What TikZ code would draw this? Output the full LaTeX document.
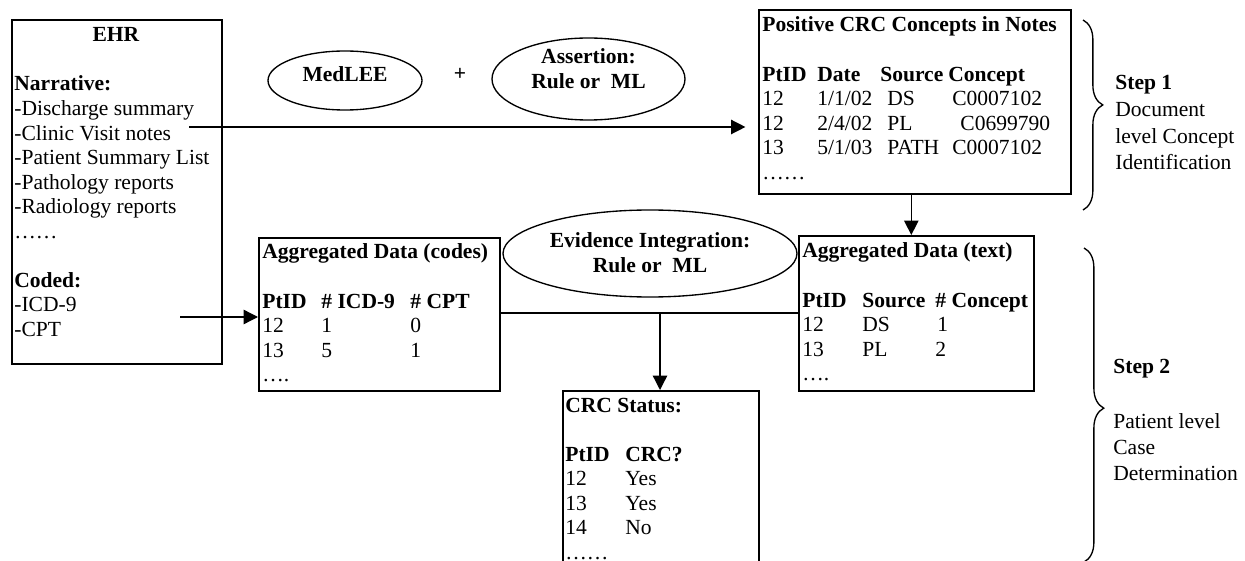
\documentclass[tikz,border=0pt]{standalone}
\usepackage{fontspec}
\setmainfont{Liberation Serif}
\usetikzlibrary{arrows.meta,shapes.geometric,decorations.pathreplacing}
\begin{document}
\begin{tikzpicture}[x=0.557pt,y=-0.557pt,font=\fontsize{12}{13.65}\selectfont]
\tikzset{
 box/.style={draw, line width=1pt, inner sep=0pt, anchor=north west},
 oval/.style={draw, ellipse, line width=0.75pt, inner sep=0pt},
 txt/.style={inner sep=0pt, anchor=base west},
 ctxt/.style={inner sep=0pt, anchor=base},
 arr/.style={line width=0.75pt, -{Triangle[length=8pt,width=8pt]}},
 conn/.style={line width=0.75pt},
 brc/.style={line width=0.75pt, decorate},
}
\useasboundingbox (0,0) rectangle (1245,561);
\clip (0,0) rectangle (1245,561);

% boxes
\node[box, minimum width=210*0.557pt, minimum height=344*0.557pt] (ehr) at (11,19) {};
\node[box, minimum width=312*0.557pt, minimum height=184*0.557pt] (pos) at (758,9) {};
\node[box, minimum width=241*0.557pt, minimum height=153*0.557pt] (aggcodes) at (258,237) {};
\node[box, minimum width=235*0.557pt, minimum height=155*0.557pt] (aggtext) at (798,235) {};
\node[box, minimum width=196*0.557pt, minimum height=200*0.557pt] (crc) at (562,390) {};

% ellipses
\node[oval, minimum width=154*0.557pt, minimum height=59*0.557pt] (medlee) at (345,80.5) {};
\node[oval, minimum width=193*0.557pt, minimum height=82*0.557pt] (assert) at (588.5,79) {};
\node[oval, minimum width=294*0.557pt, minimum height=87*0.557pt] (evid) at (650,253.5) {};

\node[ctxt] (medleeT) at (345,82) {\textbf{MedLEE}};
\node[ctxt] (plusT) at (460,81) {\textbf{+}};
\node[ctxt] (assertT) at (588.5,64) {\begin{tabular}[t]{@{}c@{}}\textbf{Assertion:}\\\textbf{Rule or~ ML}\end{tabular}};
\node[ctxt] (evidT) at (650,248) {\begin{tabular}[t]{@{}c@{}}\textbf{Evidence Integration:}\\\textbf{Rule or~ ML}\end{tabular}};

% EHR text
\node[ctxt] (ehrT) at (116,42) {\textbf{EHR}};
\node[txt] (ehrL) at (14,91) {\begin{tabular}[t]{@{}l@{}}
\textbf{Narrative:}\\
-Discharge summary\\
-Clinic Visit notes\\
-Patient Summary List\\
-Pathology reports\\
-Radiology reports\\
……\\
\\
\textbf{Coded:}\\
-ICD-9\\
-CPT
\end{tabular}};

% Positive concepts table
\node[txt] (posT) at (762,32) {\begin{tabular}[t]{@{}p{30.6pt}@{}p{35.1pt}@{}p{37.9pt}@{}l@{}}
\multicolumn{4}{@{}l@{}}{\textbf{Positive CRC Concepts in Notes}}\\
\\
\textbf{PtID} & \textbf{Date} & \textbf{Source} & \textbf{Concept}\\
12 & 1/1/02 & \hspace*{3.9pt}DS & \hspace*{2.2pt}C0007102\\
12 & 2/4/02 & \hspace*{3.9pt}PL & \hspace*{6.7pt}C0699790\\
13 & 5/1/03 & \hspace*{3.9pt}PATH & \hspace*{2.2pt}C0007102\\
\multicolumn{4}{@{}l@{}}{……}
\end{tabular}};

% Aggregated codes
\node[txt] (codesT) at (262,259) {\begin{tabular}[t]{@{}p{32.9pt}@{}p{49.6pt}@{}l@{}}
\multicolumn{3}{@{}l@{}}{\textbf{Aggregated Data (codes)}}\\
\\
\textbf{PtID} & \textbf{\# ICD-9} & \textbf{\# CPT}\\
12 & 1 & 0\\
13 & 5 & 1\\
\multicolumn{3}{@{}l@{}}{….}
\end{tabular}};

% Aggregated text
\node[txt] (textT) at (802,258) {\begin{tabular}[t]{@{}p{33.4pt}@{}p{40.7pt}@{}l@{}}
\multicolumn{3}{@{}l@{}}{\textbf{Aggregated Data (text)}}\\
\\
\textbf{PtID} & \textbf{Source} & \textbf{\# Concept}\\
12 & DS & \hspace*{1.1pt}1\\
13 & PL & 2\\
\multicolumn{3}{@{}l@{}}{….}
\end{tabular}};

% CRC status
\node[txt] (crcT) at (565,412) {\begin{tabular}[t]{@{}p{33.4pt}@{}l@{}}
\multicolumn{2}{@{}l@{}}{\textbf{CRC Status:}}\\
\\
\textbf{PtID} & \textbf{CRC?}\\
12 & Yes\\
13 & Yes\\
14 & No\\
\multicolumn{2}{@{}l@{}}{……}
\end{tabular}};

% steps
\node[txt] (s1) at (1115,90) {\textbf{Step 1}};
\node[txt] (s1d) at (1115,117) {\renewcommand\arraystretch{1.062}\begin{tabular}[t]{@{}l@{}}Document\\level Concept\\Identification\end{tabular}};
\node[txt] (s2) at (1113,373) {\textbf{Step 2}};
\node[txt] (s2d) at (1113,428) {\renewcommand\arraystretch{1.062}\begin{tabular}[t]{@{}l@{}}Patient level\\Case\\Determination\end{tabular}};

% braces
\coordinate (b1t) at (1083,20);
\coordinate (b1b) at (1083,210);
\coordinate (b2t) at (1084,248);
\coordinate (b2b) at (1084,562);
\draw[brc, decoration={brace, amplitude=11pt, aspect=0.447}] (b1t) -- (b1b);
\draw[brc, decoration={brace, amplitude=11pt, aspect=0.51}] (b2t) -- (b2b);

% connectors
\coordinate (clinicEnd) at (189,127);
\coordinate (codedEnd) at (180,317);
\coordinate (mid) at (660,313);
\draw[arr, shorten >=7pt] (clinicEnd) -- (clinicEnd -| pos.west);
\draw[arr] (codedEnd) -- (codedEnd -| aggcodes.west);
\draw[arr] ([xshift=-2pt]pos.south) -- ([xshift=-2pt]pos.south |- aggtext.north);
\draw[conn] (aggcodes.east |- mid) -- (aggtext.west |- mid);
\draw[arr] (mid) -- (mid |- crc.north);
\end{tikzpicture}
\end{document}
